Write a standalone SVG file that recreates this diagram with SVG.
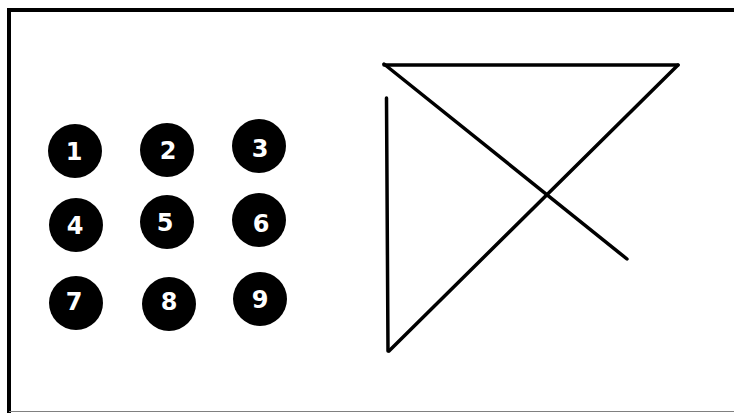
<svg xmlns="http://www.w3.org/2000/svg" width="734" height="413" viewBox="0 0 734 413">
  <style>
    .dot { fill: #000; }
    .num { fill: #fff; font-family: "DejaVu Sans", "Liberation Sans", sans-serif; font-weight: bold; font-size: 24px; text-anchor: middle; dominant-baseline: central; }
    .ln { stroke: #000; stroke-width: 3.5; stroke-linecap: round; fill: none; }
  </style>
  <rect width="734" height="413" fill="#fff"/>
  <g id="frame">
    <path d="M9,413 V10 H734" stroke="#000" stroke-width="4" fill="none"/>
    <line x1="9" y1="411.5" x2="734" y2="411.5" stroke="#808080" stroke-width="1.2"/>
  </g>
  <g id="n1"><circle class="dot" cx="75" cy="151" r="27"/><text class="num" x="74" y="152">1</text></g>
  <g id="n2"><circle class="dot" cx="167" cy="150" r="27"/><text class="num" x="168" y="151">2</text></g>
  <g id="n3"><circle class="dot" cx="259" cy="146" r="27"/><text class="num" x="260" y="149">3</text></g>
  <g id="n4"><circle class="dot" cx="76" cy="225" r="27"/><text class="num" x="75" y="226">4</text></g>
  <g id="n5"><circle class="dot" cx="167" cy="222" r="27"/><text class="num" x="165" y="223">5</text></g>
  <g id="n6"><circle class="dot" cx="259" cy="220" r="27"/><text class="num" x="261" y="224">6</text></g>
  <g id="n7"><circle class="dot" cx="76" cy="303" r="27"/><text class="num" x="74" y="302">7</text></g>
  <g id="n8"><circle class="dot" cx="169" cy="304" r="27"/><text class="num" x="169" y="302">8</text></g>
  <g id="n9"><circle class="dot" cx="260" cy="299" r="27"/><text class="num" x="260" y="300">9</text></g>
  <g id="connectors">
    <line class="ln" x1="384" y1="65" x2="678" y2="65"/>
    <line class="ln" x1="384" y1="64" x2="627" y2="259"/>
    <line class="ln" x1="678" y1="65" x2="389" y2="351"/>
    <line class="ln" x1="386.5" y1="98" x2="388" y2="351"/>
  </g>
</svg>
